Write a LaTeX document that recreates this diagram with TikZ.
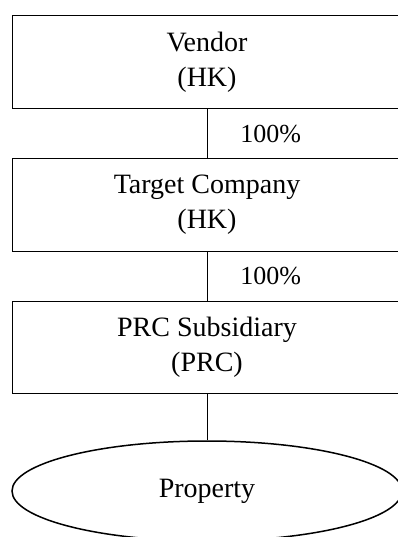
\documentclass[tikz,border=0pt]{standalone}
\usepackage{fontspec}
\setmainfont{Liberation Serif}
\usetikzlibrary{shapes.geometric}
\begin{document}
\begin{tikzpicture}[x=1pt,y=-1pt,
  entity/.style={draw, line width=0.9pt, minimum width=390pt, inner sep=0pt, align=center,
    font=\fontsize{28}{35}\selectfont},
  boxnode/.style={entity, rectangle, minimum height=92.7pt},
  ovalnode/.style={entity, ellipse, minimum height=100pt, line width=1.5pt},
  link/.style={line width=0.9pt},
  pct/.style={anchor=west, xshift=33pt, inner sep=0pt, font=\fontsize{26}{34}\selectfont}]
\clip (0,0) rectangle (398,537);
\fill[white] (0,0) rectangle (398,537);
\node[boxnode] (v) at (207,62.3) {Vendor\\(HK)};
\node[boxnode] (t) at (207,205) {Target Company\\(HK)};
\node[boxnode] (s) at (207,347.3) {PRC Subsidiary\\(PRC)};
\node[ovalnode] (p) at (207,491) {Property};
\draw[link] (v.south) -- node[pct] (l1) {100\%} (t.north);
\draw[link] (t.south) -- node[pct] (l2) {100\%} (s.north);
\draw[link] (s.south) -- (p.north);
\end{tikzpicture}
\end{document}
